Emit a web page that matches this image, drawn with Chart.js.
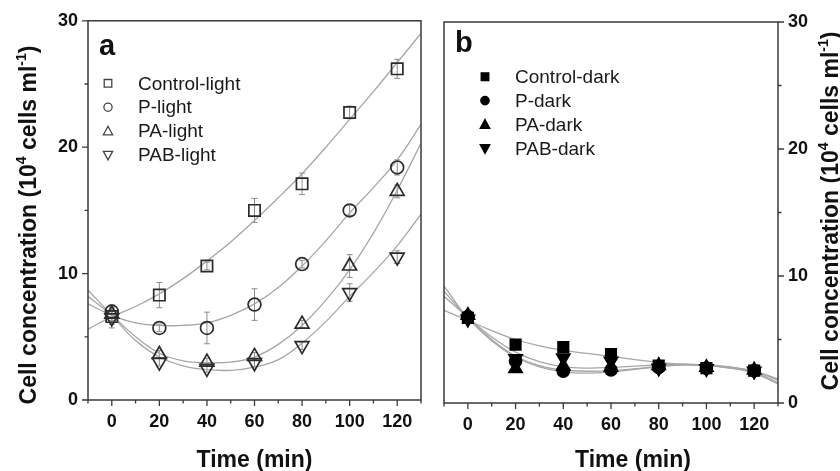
<!DOCTYPE html>
<html><head><meta charset="utf-8">
<script src="https://cdn.jsdelivr.net/npm/chart.js@4.4.1/dist/chart.umd.min.js"></script>
<style>
html,body{margin:0;padding:0;background:#fff;}
#wrap{position:relative;width:840px;height:471px;overflow:hidden;background:#fff;}
#ca{position:absolute;left:0;top:0;}
#cb{position:absolute;left:432px;top:0;}
</style></head><body>
<div id="wrap"><canvas id="ca" width="432" height="471"></canvas><canvas id="cb" width="408" height="471"></canvas></div>
<script>
// ---------- data ----------
const times = [0, 20, 40, 60, 80, 100, 120];
const xTickValues = [0, 20, 40, 60, 80, 100, 120];
const xMinorValues = [-10, 10, 30, 50, 70, 90, 110, 130];
const yTickValues = [0, 10, 20, 30];
const yMinorValues = [5, 15, 25];

const lightNames = ['Control-light', 'P-light', 'PA-light', 'PAB-light'];
const darkNames = ['Control-dark', 'P-dark', 'PA-dark', 'PAB-dark'];

const controlLight = [6.6, 8.3, 10.6, 15.0, 17.1, 22.75, 26.2];
const pLight = [7.0, 5.7, 5.7, 7.55, 10.75, 15.0, 18.4];
const paLight = [6.8, 3.6, 3.0, 3.45, 6.0, 10.6, 16.5];
const pabLight = [6.5, 3.0, 2.5, 2.95, 4.3, 8.5, 11.3];

const controlLightErr = [0.9, 1.0, 0.3, 0.95, 0.85, 0.5, 0.75];
const pLightErr = [0.5, 0.3, 1.25, 1.25, 0.3, 0.4, 0.6];
const paLightErr = [0.5, 0.3, 0.3, 0.3, 0.3, 0.9, 0.5];
const pabLightErr = [0.5, 0.3, 0.3, 0.3, 0.3, 0.7, 0.5];

const controlDark = [6.7, 4.6, 4.4, 3.85, 2.95, 2.75, 2.55];
const pDark = [6.8, 3.3, 2.5, 2.6, 2.8, 2.75, 2.55];
const paDark = [6.9, 2.7, 2.9, 2.8, 2.95, 2.8, 2.6];
const pabDark = [6.6, 3.5, 3.55, 3.3, 2.75, 2.7, 2.5];

const fitX = [-10, 0, 10, 20, 30, 40, 50, 60, 70, 80, 90, 100, 110, 120, 130];
const controlLightFit = [5.6, 6.6, 7.4, 8.4, 9.6, 11.0, 12.5, 14.2, 16.0, 17.9, 20.0, 22.2, 24.4, 26.7, 29.0];
const pLightFit = [7.6, 6.7, 6.1, 5.9, 5.9, 6.1, 6.7, 7.6, 8.9, 10.6, 12.6, 14.8, 16.8, 19.0, 21.8];
const paLightFit = [8.2, 6.7, 5.0, 3.7, 3.1, 2.95, 3.0, 3.4, 4.4, 5.9, 7.9, 10.3, 13.2, 16.6, 20.3];
const pabLightFit = [8.7, 6.7, 4.7, 3.4, 2.7, 2.4, 2.35, 2.6, 3.2, 4.5, 6.2, 8.2, 10.1, 12.2, 14.7];

const controlDarkFit = [7.3, 6.5, 5.7, 5.0, 4.5, 4.15, 3.9, 3.67, 3.42, 3.2, 3.05, 2.95, 2.8, 2.5, 1.9];
const pDarkFit = [9.2, 6.7, 4.9, 3.6, 2.85, 2.45, 2.35, 2.45, 2.65, 2.85, 3.0, 2.95, 2.75, 2.35, 1.5];
const paDarkFit = [8.8, 6.7, 5.0, 3.7, 2.95, 2.6, 2.5, 2.55, 2.7, 2.9, 3.0, 2.95, 2.75, 2.4, 1.6];
const pabDarkFit = [8.4, 6.75, 5.2, 4.0, 3.25, 2.85, 2.75, 2.8, 2.9, 3.0, 3.05, 3.0, 2.85, 2.5, 1.8];

const xTitle = 'Time (min)';
const yTitleParts = [['Cell concentration (10', false], ['4', true], [' cells ml', false], ['-1', true], [')', false]];

// ---------- styling ----------
const FONT = '"Liberation Sans", Arial, Helvetica, sans-serif';
const AXIS_COLOR = '#3a3a3a';
const markersLight = [
  {style: 'rect', r: 8.0, rot: 0}, {style: 'circle', r: 6.4, rot: 0},
  {style: 'triangle', r: 8.0, rot: 0}, {style: 'triangle', r: 8.0, rot: 180}
];
const markersDark = [
  {style: 'rect', r: 7.4, rot: 0}, {style: 'circle', r: 6.0, rot: 0},
  {style: 'triangle', r: 7.6, rot: 0}, {style: 'triangle', r: 7.6, rot: 180}
];

function drawMarker(ctx, style, x, y, r, rot, fill, stroke, lw) {
  ctx.save();
  ctx.beginPath();
  if (style === 'circle') {
    ctx.arc(x, y, r, 0, Math.PI * 2);
  } else if (style === 'rect') {
    ctx.rect(x - r, y - r, 2 * r, 2 * r);
  } else {
    const s = rot ? -1 : 1;
    ctx.moveTo(x, y - s * r * 1.05);
    ctx.lineTo(x + r * 1.0, y + s * r * 0.8);
    ctx.lineTo(x - r * 1.0, y + s * r * 0.8);
    ctx.closePath();
  }
  if (fill) { ctx.fillStyle = fill; ctx.fill(); }
  if (stroke) { ctx.strokeStyle = stroke; ctx.lineWidth = lw; ctx.stroke(); }
  ctx.restore();
}

function drawYTitle(ctx, baseX, centerY, size) {
  ctx.save();
  ctx.translate(baseX, centerY);
  ctx.rotate(-Math.PI / 2);
  ctx.fillStyle = '#111';
  ctx.textAlign = 'left';
  ctx.textBaseline = 'alphabetic';
  const big = 'bold ' + size + 'px ' + FONT;
  const small = 'bold ' + Math.round(size * 0.6) + 'px ' + FONT;
  let total = 0;
  yTitleParts.forEach(p => { ctx.font = p[1] ? small : big; total += ctx.measureText(p[0]).width; });
  let x = -total / 2;
  yTitleParts.forEach(p => {
    ctx.font = p[1] ? small : big;
    ctx.fillText(p[0], x, p[1] ? -size * 0.42 : 0);
    x += ctx.measureText(p[0]).width;
  });
  ctx.restore();
}

const deco = {
  id: 'deco',
  beforeDatasetsDraw(chart, args, o) {
    if (!o.errors) return;
    const ctx = chart.ctx, xs = chart.scales.x, ys = chart.scales.y;
    ctx.save();
    ctx.strokeStyle = '#8c8c8c';
    ctx.lineWidth = 1;
    o.errors.forEach((errs, i) => {
      const vals = o.series[i];
      errs.forEach((e, j) => {
        const px = xs.getPixelForValue(times[j]);
        const t = ys.getPixelForValue(vals[j] + e);
        const b = ys.getPixelForValue(vals[j] - e);
        ctx.beginPath();
        ctx.moveTo(px, t); ctx.lineTo(px, b);
        ctx.moveTo(px - 3, t); ctx.lineTo(px + 3, t);
        ctx.moveTo(px - 3, b); ctx.lineTo(px + 3, b);
        ctx.stroke();
      });
    });
    ctx.restore();
  },
  afterDraw(chart, args, o) {
    const ctx = chart.ctx, a = chart.chartArea, xs = chart.scales.x, ys = chart.scales.y;
    ctx.save();
    ctx.strokeStyle = AXIS_COLOR;
    ctx.lineWidth = 1.5;
    ctx.strokeRect(a.left, a.top, a.right - a.left, a.bottom - a.top);
    ctx.lineWidth = 1.3;
    ctx.beginPath();
    xTickValues.forEach(v => { const p = xs.getPixelForValue(v); ctx.moveTo(p, a.bottom); ctx.lineTo(p, a.bottom + 6); });
    xMinorValues.forEach(v => { const p = xs.getPixelForValue(v); ctx.moveTo(p, a.bottom); ctx.lineTo(p, a.bottom + 3.5); });
    const side = o.ySide === 'right' ? 1 : -1;
    const ex = o.ySide === 'right' ? a.right : a.left;
    yTickValues.forEach(v => { const p = ys.getPixelForValue(v); ctx.moveTo(ex, p); ctx.lineTo(ex + side * 6, p); });
    yMinorValues.forEach(v => { const p = ys.getPixelForValue(v); ctx.moveTo(ex, p); ctx.lineTo(ex + side * 3.5, p); });
    ctx.stroke();
    ctx.fillStyle = '#111';
    ctx.font = 'bold 29px ' + FONT;
    ctx.textAlign = 'left';
    ctx.textBaseline = 'alphabetic';
    ctx.fillText(o.letter, a.left + o.letterDx, a.top + o.letterDy);
    ctx.font = '19px ' + FONT;
    ctx.textBaseline = 'middle';
    o.names.forEach((n, i) => {
      const y = a.top + o.legDy + i * 23.9;
      const mk = o.legMarkers[i];
      drawMarker(ctx, mk.style, a.left + o.legDx, y, mk.r, mk.rot, o.legFill, o.legStroke, 1.3);
      ctx.fillStyle = '#1a1a1a';
      ctx.fillText(n, a.left + o.legTextDx, y + 1);
    });
    ctx.font = 'bold 23px ' + FONT;
    ctx.textAlign = 'center';
    ctx.textBaseline = 'alphabetic';
    ctx.fillStyle = '#111';
    ctx.fillText(xTitle, o.xTitleX, 467);
    drawYTitle(ctx, o.yTitleX, o.yTitleY, 23);
    ctx.restore();
  }
};

function makeSeries(names, series, fits, markers, fill, stroke) {
  const pts = series.map((vals, i) => ({
    label: names[i],
    data: times.map((t, j) => ({x: t, y: vals[j]})),
    showLine: false,
    pointStyle: markers[i].style,
    pointRadius: markers[i].r,
    pointRotation: markers[i].rot,
    pointBackgroundColor: fill,
    pointBorderColor: stroke,
    pointBorderWidth: 1.7,
    order: 0
  }));
  const lines = fits.map((f, i) => ({
    label: names[i] + ' fit',
    data: fitX.map((x, j) => ({x: x, y: f[j]})),
    showLine: true,
    pointRadius: 0,
    borderColor: '#a6a6a6',
    borderWidth: 1.3,
    tension: 0.4,
    fill: false,
    order: 1
  }));
  return pts.concat(lines);
}

function makeConfig(datasets, ySide, areaW, xH, pad, decoOpts) {
  return {
    type: 'scatter',
    data: {datasets: datasets},
    options: {
      responsive: false,
      animation: false,
      events: [],
      layout: {padding: pad},
      plugins: {legend: {display: false}, tooltip: {enabled: false}, deco: decoOpts},
      scales: {
        x: {
          type: 'linear', position: 'bottom', min: -10, max: 130,
          afterBuildTicks: s => { s.ticks = xTickValues.map(v => ({value: v})); },
          afterFit: s => { s.height = xH; },
          grid: {display: false, drawTicks: false, tickLength: 0},
          border: {display: false},
          ticks: {color: '#111', font: {family: FONT, size: 18, weight: 'bold'}, padding: 11, maxRotation: 0, autoSkip: false}
        },
        y: {
          type: 'linear', position: ySide, min: 0, max: 30,
          afterBuildTicks: s => { s.ticks = yTickValues.map(v => ({value: v})); },
          afterFit: s => { s.width = areaW; },
          grid: {display: false, drawTicks: false, tickLength: 0},
          border: {display: false},
          ticks: {color: '#111', font: {family: FONT, size: 18, weight: 'bold'}, padding: 10, autoSkip: false}
        }
      }
    },
    plugins: [deco]
  };
}

const lightSeries = [controlLight, pLight, paLight, pabLight];
const lightErrs = [controlLightErr, pLightErr, paLightErr, pabLightErr];
const lightFits = [controlLightFit, pLightFit, paLightFit, pabLightFit];
const darkSeries = [controlDark, pDark, paDark, pabDark];
const darkFits = [controlDarkFit, pDarkFit, paDarkFit, pabDarkFit];

new Chart(document.getElementById('ca'), makeConfig(
  makeSeries(lightNames, lightSeries, lightFits, markersLight, 'rgba(255,255,255,0)', '#2b2b2b'),
  'left', 88, 71, {top: 19, right: 11, left: 0, bottom: 0},
  {
    letter: 'a', letterDx: 11, letterDy: 34, names: lightNames,
    legMarkers: [{style: 'rect', r: 3.8, rot: 0}, {style: 'circle', r: 4.1, rot: 0}, {style: 'triangle', r: 4.6, rot: 0}, {style: 'triangle', r: 4.6, rot: 180}],
    legFill: null, legStroke: '#444', legDx: 20, legTextDx: 50, legDy: 62.5,
    xTitleX: 254.5, yTitleX: 36, yTitleY: 225, ySide: 'left',
    errors: lightErrs, series: lightSeries
  }
));

new Chart(document.getElementById('cb'), makeConfig(
  makeSeries(darkNames, darkSeries, darkFits, markersDark, '#000', '#000'),
  'right', 62, 68, {top: 22, right: 0, left: 12, bottom: 0},
  {
    letter: 'b', letterDx: 11, letterDy: 30, names: darkNames,
    legMarkers: [{style: 'rect', r: 3.8, rot: 0}, {style: 'circle', r: 4.2, rot: 0}, {style: 'triangle', r: 4.8, rot: 0}, {style: 'triangle', r: 4.8, rot: 180}],
    legFill: '#000', legStroke: '#000', legDx: 41, legTextDx: 71, legDy: 54.7,
    xTitleX: 633 - 432, yTitleX: 838 - 432, yTitleY: 211, ySide: 'right',
    errors: null, series: darkSeries
  }
));
</script>
</body></html>
